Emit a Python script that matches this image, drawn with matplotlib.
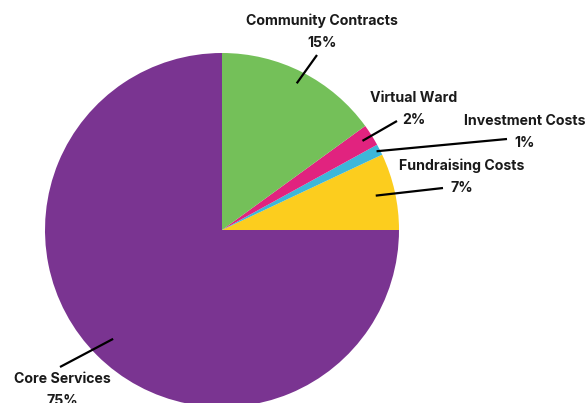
import numpy as np
import matplotlib.pyplot as plt

labels = ['Fundraising Costs', 'Investment Costs', 'Virtual Ward',
          'Community Contracts', 'Core Services']
values = [7, 1, 2, 15, 75]
colors = ['#FCCD1E', '#3DB7D9', '#E1237F', '#74C059', '#7A3491']

# label layout in pixel coords (x, y from top)
text_pos = [(462, 177), (525, 132), (414, 109), (322, 32), (62, 390)]
line_end = [(443, 188), (507, 139), (397, 121), (317, 55), (60, 367)]
line_r = [0.89, 0.98, 0.94, 0.93, 0.87]

W, H = 586, 403
cx, cy, R = 222, H - 230, 177

plt.rcParams['font.family'] = ['Inter', 'DejaVu Sans']

fig = plt.figure(figsize=(W / 100, H / 100), dpi=100)
ax = fig.add_axes([0, 0, 1, 1])
ax.pie(values, colors=colors, startangle=0, counterclock=True,
       center=(cx, cy), radius=R, frame=True,
       wedgeprops=dict(linewidth=0))
ax.set_xlim(0, W)
ax.set_ylim(0, H)
ax.set_aspect('auto')
ax.axis('off')

start = 0
for lab, v, (tx, ty), (ex, ey), rf in zip(labels, values, text_pos, line_end, line_r):
    mid = np.deg2rad(start + v * 3.6 / 2)
    start += v * 3.6
    sx = cx + rf * R * np.cos(mid)
    sy = cy + rf * R * np.sin(mid)
    ax.plot([sx, ex], [sy, H - ey], color='black', lw=1.6, solid_capstyle='butt')
    ax.text(tx, H - ty, f'{lab}\n{v}%', ha='center', va='center',
            fontsize=10.2, fontweight='bold', color='#1a1a1a', linespacing=1.7)

fig.savefig('out.png', dpi=100)
